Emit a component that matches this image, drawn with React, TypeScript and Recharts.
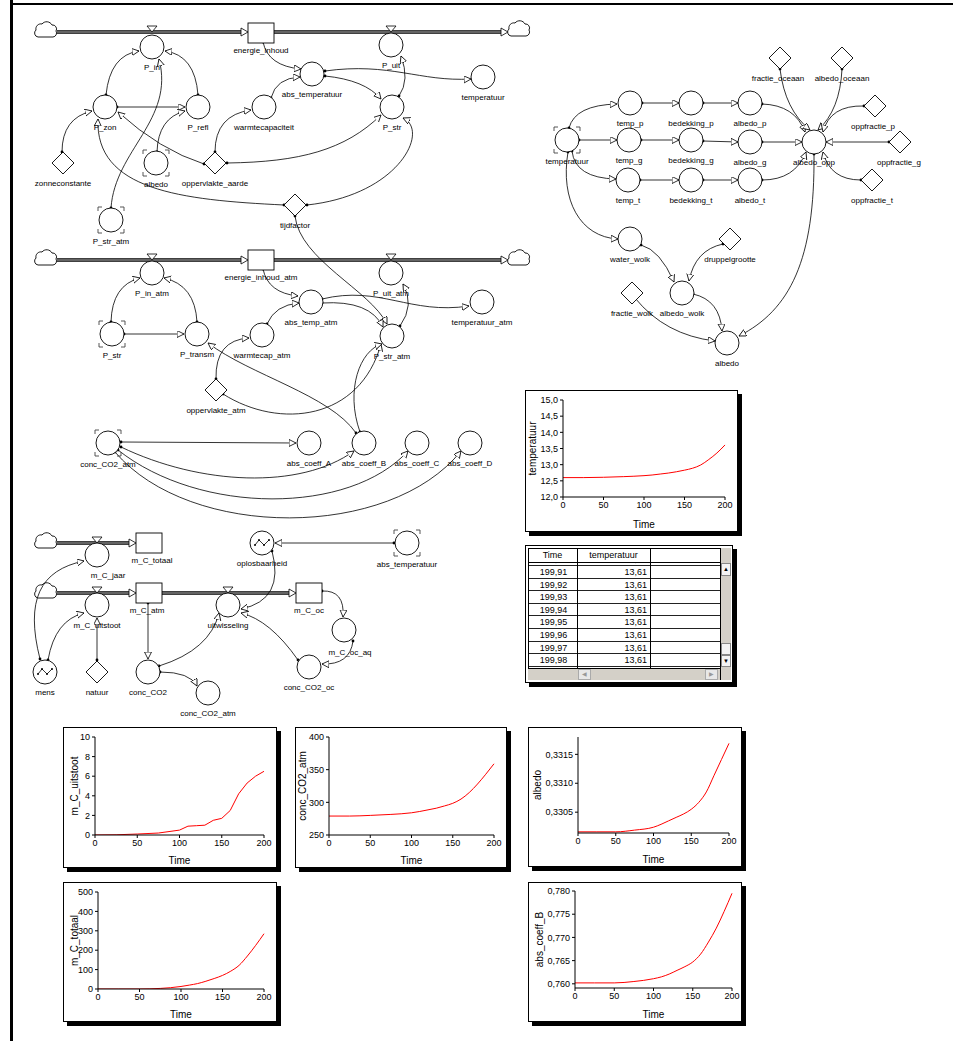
import React from 'react';
import { LineChart, Line, XAxis, YAxis } from 'recharts';

// simulation output (Time 0..200)
const TIME = [0, 25, 50, 75, 100, 110, 120, 130, 140, 150, 160, 170, 180, 190, 200];
const TEMPERATUUR = [12.6, 12.6, 12.61, 12.63, 12.66, 12.68, 12.71, 12.74, 12.78, 12.83, 12.89, 12.99, 13.16, 13.36, 13.61];
const M_C_UITSTOOT = [0, 0.02, 0.1, 0.2, 0.5, 0.9, 0.95, 1.0, 1.5, 1.7, 2.5, 4.2, 5.3, 6.0, 6.5];
const CONC_CO2_ATM = [279, 279, 280, 281.5, 284, 286, 288.5, 291, 294.5, 298.5, 305, 315, 328, 343, 359];
const ALBEDO = [0.33016, 0.33016, 0.33016, 0.33019, 0.33024, 0.33029, 0.33035, 0.33041, 0.33047, 0.33055, 0.33067, 0.33085, 0.33113, 0.33141, 0.33169];
const M_C_TOTAAL = [0, 0, 0, 3, 13, 20, 28, 40, 54, 70, 92, 122, 170, 225, 285];
const ABS_COEFF_B = [0.7602, 0.7602, 0.7602, 0.7605, 0.7611, 0.7615, 0.7621, 0.7629, 0.7637, 0.7647, 0.7664, 0.769, 0.772, 0.7756, 0.7795];
const TIME_TICKS = [0, 50, 100, 150, 200];

const TABLE_TIME = ['199,90', '199,91', '199,92', '199,93', '199,94', '199,95', '199,96', '199,97', '199,98'];
const TABLE_TEMP = ['13,61', '13,61', '13,61', '13,61', '13,61', '13,61', '13,61', '13,61', '13,61'];

const F = '"Liberation Sans", Arial, sans-serif';

// diagram nodes: [name, x, y, labelX?, labelY?]
type N = [string, number, number, number?, number?];
const CIRCLES: N[] = [
  ['P_in', 152, 47], ['P_uit', 391, 45], ['P_zon', 105, 107], ['P_refl', 198, 107],
  ['warmtecapaciteit', 264, 107], ['abs_temperatuur', 312, 74], ['temperatuur', 483, 77], ['P_str', 392, 107],
  ['P_in_atm', 152, 273], ['P_uit_atm', 391, 273], ['abs_temp_atm', 311, 302], ['temperatuur_atm', 482, 302],
  ['P_transm', 197, 334], ['warmtecap_atm', 262, 335], ['P_str_atm', 392, 336],
  ['abs_coeff_A', 309, 443], ['abs_coeff_B', 364, 443], ['abs_coeff_C', 417, 443], ['abs_coeff_D', 470, 443],
  ['m_C_jaar', 97, 555, 108, 578], ['m_C_uitstoot', 97, 605], ['uitwisseling', 228, 605],
  ['m_C_oc_aq', 344, 630, 350, 655], ['conc_CO2', 148, 672], ['conc_CO2_atm', 208, 693], ['conc_CO2_oc', 309, 667],
  ['temp_p', 630, 103], ['bedekking_p', 691, 103], ['albedo_p', 750, 103],
  ['temp_g', 629, 140], ['bedekking_g', 691, 140], ['albedo_g', 750, 142],
  ['temp_t', 628, 180], ['bedekking_t', 691, 180], ['albedo_t', 750, 180],
  ['albedo_opp', 814, 142], ['water_wolk', 630, 239], ['albedo_wolk', 682, 293], ['albedo', 727, 343],
];
const GHOSTS: N[] = [
  ['albedo', 156, 163], ['P_str_atm', 111, 220], ['P_str', 112, 334], ['conc_CO2_atm', 108, 443],
  ['abs_temperatuur', 407, 543], ['temperatuur', 567, 140],
];
const GRAPHS: N[] = [['oplosbaarheid', 262, 543], ['mens', 45, 672]];
const DIAMONDS: N[] = [
  ['zonneconstante', 63, 163], ['oppervlakte_aarde', 215, 163], ['tijdfactor', 295, 205],
  ['oppervlakte_atm', 216, 390], ['natuur', 97, 672],
  ['fractie_oceaan', 780, 58, 778, 81], ['albedo_oceaan', 842, 58, 842, 81], ['oppfractie_p', 875, 106, 873, 129],
  ['oppfractie_g', 900, 142, 899, 165], ['oppfractie_t', 872, 180, 872, 203], ['druppelgrootte', 730, 239],
  ['fractie_wolk', 632, 293],
];
const STOCKS: N[] = [
  ['energie_inhoud', 261, 33], ['energie_inhoud_atm', 261, 260], ['m_C_totaal', 149, 543, 152, 563],
  ['m_C_atm', 149, 593, 147, 613], ['m_C_oc', 309, 593, 309, 613],
];
const CLOUDS = [[46, 31], [519, 30], [46, 259], [519, 259], [46, 542], [46, 592]];
// pipes: x1, x2, y
const PIPES = [[57, 248, 32], [274, 508, 32], [57, 248, 260], [274, 508, 260], [57, 136, 543], [57, 136, 593], [162, 296, 593]];
const VALVES = [[152, 32], [391, 32], [152, 260], [391, 260], [97, 543], [97, 593], [228, 593]];

const LINKS: number[][] = [
  [106, 95, 110, 55, 139, 51], [198, 95, 195, 55, 165, 51], [117, 107, 185, 107],
  [62, 152, 62, 118, 92, 111], [157, 152, 158, 118, 185, 111], [204, 164, 160, 150, 118, 112],
  [215, 152, 215, 115, 251, 110], [227, 163, 300, 162, 345, 150, 381, 115],
  [271, 98, 276, 78, 300, 77], [263, 42, 268, 66, 301, 69],
  [325, 71, 390, 62, 420, 82, 471, 79], [325, 76, 365, 80, 381, 99], [399, 96, 410, 80, 401, 56],
  [307, 205, 400, 195, 430, 130, 403, 118], [284, 205, 180, 200, 95, 190, 98, 119],
  [111, 208, 115, 150, 175, 120, 159, 59], [295, 216, 300, 260, 370, 290, 387, 324],
  [111, 322, 112, 285, 140, 278], [197, 322, 195, 285, 164, 278], [124, 334, 184, 334],
  [263, 269, 268, 293, 298, 296], [267, 324, 275, 305, 299, 303], [216, 379, 215, 340, 249, 338],
  [223, 394, 280, 430, 360, 420, 381, 344], [322, 299, 380, 285, 410, 315, 469, 306],
  [322, 303, 370, 300, 383, 327], [400, 326, 415, 305, 403, 284],
  [356, 433, 330, 395, 250, 375, 208, 343], [360, 432, 345, 390, 360, 350, 382, 344],
  [121, 442, 296, 443], [121, 447, 200, 485, 300, 490, 354, 451],
  [118, 450, 200, 515, 350, 515, 408, 451], [115, 452, 190, 540, 390, 540, 461, 451],
  [40, 659, 25, 600, 40, 570, 84, 561], [48, 660, 55, 620, 84, 613], [97, 660, 97, 618],
  [148, 603, 148, 659], [159, 666, 210, 650, 219, 613], [160, 672, 190, 672, 197, 686],
  [272, 551, 285, 600, 241, 609], [394, 543, 275, 543], [322, 591, 345, 590, 343, 617],
  [353, 641, 350, 665, 322, 664], [298, 660, 270, 620, 241, 613],
  [569, 128, 575, 105, 617, 104], [579, 140, 617, 140], [572, 151, 575, 178, 616, 179],
  [642, 103, 679, 103], [703, 103, 738, 103], [641, 140, 679, 140], [703, 141, 738, 142],
  [640, 180, 679, 180], [703, 180, 738, 180],
  [762, 104, 795, 105, 805, 132], [762, 142, 802, 142], [762, 180, 795, 180, 806, 152],
  [780, 69, 785, 110, 810, 130], [842, 69, 840, 110, 818, 130], [864, 106, 830, 105, 823, 132],
  [889, 142, 826, 142], [861, 180, 830, 180, 823, 152],
  [814, 154, 815, 260, 790, 310, 739, 336], [568, 152, 560, 200, 580, 237, 618, 239],
  [641, 245, 660, 250, 674, 282], [723, 244, 695, 250, 689, 281],
  [635, 298, 665, 335, 715, 341], [693, 294, 720, 300, 722, 331],
];

function Lbl({ x, y, t }: { x: number; y: number; t: string }) {
  return <text x={x} y={y} fontSize={8} textAnchor="middle" fontFamily={F} fill="#000">{t}</text>;
}

function linkPath(a: number[]) {
  if (a.length === 4) return `M${a[0]},${a[1]} L${a[2]},${a[3]}`;
  if (a.length === 6) return `M${a[0]},${a[1]} Q${a[2]},${a[3]} ${a[4]},${a[5]}`;
  return `M${a[0]},${a[1]} C${a[2]},${a[3]} ${a[4]},${a[5]} ${a[6]},${a[7]}`;
}

function Cloud({ x, y }: { x: number; y: number }) {
  const d = `M${x - 8},${y + 6} a4,4 0 0 1 -2,-7 a5,5 0 0 1 6,-6 a6,6 0 0 1 10,1 a4,4 0 0 1 4,6 a4,4 0 0 1 -3,6 Z`;
  return <path d={d} fill="#fff" stroke="#000" strokeWidth={0.9} />;
}

function Diagram() {
  return (
    <svg width={953} height={1041} style={{ position: 'absolute', left: 0, top: 0 }}>
      <defs>
        <marker id="ah" markerWidth={8} markerHeight={8} refX={7} refY={3.5} orient="auto" markerUnits="userSpaceOnUse">
          <path d="M0,0 L7,3.5 L0,7 Z" fill="#fff" stroke="#000" strokeWidth={0.8} />
        </marker>
      </defs>
      <rect x={10} y={0} width={3} height={1041} fill="#000" />
      <rect x={10} y={3} width={943} height={2} fill="#000" />

      {PIPES.map(([x1, x2, y], i) => (
        <g key={'p' + i}>
          <line x1={x1} y1={y} x2={x2 - 6} y2={y} stroke="#000" strokeWidth={3.5} />
          <line x1={x1} y1={y} x2={x2 - 6} y2={y} stroke="#c8c8c8" strokeWidth={1.2} />
          <polygon points={`${x2 - 7},${y - 4} ${x2},${y} ${x2 - 7},${y + 4}`} fill="#fff" stroke="#000" strokeWidth={0.8} />
        </g>
      ))}
      {CLOUDS.map(([x, y], i) => <Cloud key={'c' + i} x={x} y={y} />)}
      {VALVES.map(([x, y], i) => (
        <polygon key={'v' + i} points={`${x - 5},${y - 6} ${x + 5},${y - 6} ${x},${y}`} fill="#fff" stroke="#000" strokeWidth={0.8} />
      ))}

      {LINKS.map((a, i) => (
        <g key={'l' + i}>
          <path d={linkPath(a)} fill="none" stroke="#000" strokeWidth={0.8} markerEnd="url(#ah)" />
          <circle cx={a[0]} cy={a[1]} r={1.4} fill="#000" />
        </g>
      ))}

      {CIRCLES.map(([t, x, y, lx, ly], i) => (
        <g key={'n' + i}>
          <circle cx={x} cy={y} r={12} fill="#fff" stroke="#000" strokeWidth={0.9} />
          <Lbl x={lx ?? x} y={ly ?? y + 23} t={t} />
        </g>
      ))}
      {GHOSTS.map(([t, x, y], i) => (
        <g key={'g' + i}>
          <path
            d={`M${x - 13},${y - 9} V${y - 13} H${x - 9} M${x + 9},${y - 13} H${x + 13} V${y - 9} M${x - 13},${y + 9} V${y + 13} H${x - 9} M${x + 9},${y + 13} H${x + 13} V${y + 9}`}
            fill="none" stroke="#444" strokeWidth={0.9}
          />
          <circle cx={x} cy={y} r={12} fill="#fff" stroke="#000" strokeWidth={0.9} />
          <Lbl x={x} y={y + 24} t={t} />
        </g>
      ))}
      {GRAPHS.map(([t, x, y], i) => (
        <g key={'f' + i}>
          <circle cx={x} cy={y} r={12} fill="#fff" stroke="#000" strokeWidth={0.9} />
          <polyline points={`${x - 7},${y + 2} ${x - 3},${y - 3} ${x + 2},${y + 2} ${x + 7},${y - 3}`} fill="none" stroke="#000" strokeWidth={0.8} />
          {[[-7, 2], [-3, -3], [2, 2], [7, -3]].map(([dx, dy], j) => (
            <circle key={j} cx={x + dx} cy={y + dy} r={1} fill="#000" />
          ))}
          <Lbl x={x} y={y + 23} t={t} />
        </g>
      ))}
      {DIAMONDS.map(([t, x, y, lx, ly], i) => (
        <g key={'d' + i}>
          <polygon points={`${x},${y - 11} ${x + 11},${y} ${x},${y + 11} ${x - 11},${y}`} fill="#fff" stroke="#000" strokeWidth={0.9} />
          <Lbl x={lx ?? x} y={ly ?? y + 23} t={t} />
        </g>
      ))}
      {STOCKS.map(([t, x, y, lx, ly], i) => (
        <g key={'s' + i}>
          <rect x={x - 13} y={y - 10} width={26} height={20} fill="#fff" stroke="#000" strokeWidth={0.9} />
          <Lbl x={lx ?? x} y={ly ?? y + 20} t={t} />
        </g>
      ))}
    </svg>
  );
}

type Box = { x: number; y: number; w: number; h: number };
type Plot = { l: number; t: number; r: number; b: number };

function MiniChart(props: {
  box: Box; plot: Plot; yLabel: string; values: number[]; labelOffset: number;
  domain: [number, number]; ticks: number[]; fmt: (v: number) => string; curve?: 'monotone' | 'linear';
}) {
  const { box, plot, yLabel, values, domain, ticks, fmt, labelOffset, curve = 'monotone' } = props;
  const data = TIME.map((t, i) => ({ t, v: values[i] }));
  const W = box.w - 2;
  const H = box.h - 2;
  const ox = box.x + 1;
  const oy = box.y + 1;
  return (
    <div
      style={{
        position: 'absolute', left: box.x, top: box.y, width: W, height: H,
        border: '1px solid #000', background: '#fff', boxShadow: '4px 4px 0 #000',
      }}
    >
      <LineChart width={W} height={H} data={data} margin={{ top: plot.t - oy, right: ox + W - plot.r, left: 0, bottom: 0 }}>
        <XAxis
          dataKey="t" type="number" domain={[0, 200]} ticks={TIME_TICKS} height={oy + H - plot.b}
          tickSize={3} stroke="#000" tick={{ fill: '#000', fontSize: 9, fontFamily: F }}
          label={{ value: 'Time', position: 'insideBottom', offset: 3, fill: '#000', fontSize: 10, fontFamily: F }}
        />
        <YAxis
          type="number" domain={domain} ticks={ticks} width={plot.l - ox} allowDataOverflow
          tickSize={3} stroke="#000" tick={{ fill: '#000', fontSize: 9, fontFamily: F }} tickFormatter={fmt}
          label={{ value: yLabel, angle: -90, position: 'insideLeft', offset: labelOffset, fill: '#000', fontSize: 10, fontFamily: F, style: { textAnchor: 'middle' } }}
        />
        <Line dataKey="v" type={curve} stroke="#ff0000" strokeWidth={1} dot={false} isAnimationActive={false} />
      </LineChart>
    </div>
  );
}

const comma = (d: number) => (v: number) => v.toFixed(d).replace('.', ',');

function DataTable() {
  const gray = '#d4d0c8';
  const cell: React.CSSProperties = { position: 'absolute', fontSize: 9, fontFamily: F, lineHeight: '12px', color: '#000' };
  return (
    <div
      style={{
        position: 'absolute', left: 525, top: 545, width: 206, height: 136,
        border: '1px solid #000', background: '#fff', boxShadow: '4px 4px 0 #000',
      }}
    >
      {/* header */}
      <div style={{ position: 'absolute', left: 2, top: 2, width: 192, height: 15, borderBottom: '1px solid #000', borderTop: '1px solid #000', borderLeft: '1px solid #000', boxSizing: 'border-box' }} />
      <div style={{ ...cell, left: 2, top: 3, width: 49, textAlign: 'center' }}>Time</div>
      <div style={{ ...cell, left: 51, top: 3, width: 73, textAlign: 'center' }}>temperatuur</div>
      {/* body */}
      <div style={{ position: 'absolute', left: 2, top: 17, width: 192, height: 105, overflow: 'hidden', borderLeft: '1px solid #000', boxSizing: 'border-box' }}>
        {TABLE_TIME.map((t, i) => (
          <div key={t} style={{ position: 'absolute', left: 0, top: -9.6 + i * 12.6, width: 192, height: 12.6, borderBottom: '1px solid #222', boxSizing: 'border-box', overflow: 'hidden' }}>
            <div style={{ ...cell, left: 0, top: 0, width: 49, textAlign: 'center' }}>{t}</div>
            <div style={{ ...cell, left: 49, top: 0, width: 69, textAlign: 'right' }}>{TABLE_TEMP[i]}</div>
          </div>
        ))}
      </div>
      {/* column lines */}
      <div style={{ position: 'absolute', left: 51, top: 2, width: 1, height: 120, background: '#000' }} />
      <div style={{ position: 'absolute', left: 124, top: 2, width: 1, height: 120, background: '#000' }} />
      {/* vertical scrollbar */}
      <div style={{ position: 'absolute', left: 194, top: 2, width: 11, height: 132, background: gray, borderLeft: '1px solid #000', boxSizing: 'border-box' }} />
      <div style={{ position: 'absolute', left: 195, top: 17, width: 10, height: 13, background: '#f4f4f4', border: '1px solid #888', boxSizing: 'border-box', fontSize: 6, textAlign: 'center', lineHeight: '11px' }}>▲</div>
      <div style={{ position: 'absolute', left: 195, top: 97, width: 10, height: 12, background: '#f4f4f4', border: '1px solid #888', boxSizing: 'border-box' }} />
      <div style={{ position: 'absolute', left: 195, top: 109, width: 10, height: 12, background: '#f4f4f4', border: '1px solid #888', boxSizing: 'border-box', fontSize: 6, textAlign: 'center', lineHeight: '10px' }}>▼</div>
      {/* horizontal scrollbar */}
      <div style={{ position: 'absolute', left: 2, top: 122, width: 192, height: 12, background: gray, borderTop: '1px solid #000', boxSizing: 'border-box' }} />
      <div style={{ position: 'absolute', left: 52, top: 123, width: 13, height: 11, background: '#e8e8e8', border: '1px solid #aaa', boxSizing: 'border-box', fontSize: 6, color: '#999', textAlign: 'center', lineHeight: '9px' }}>◀</div>
      <div style={{ position: 'absolute', left: 179, top: 123, width: 13, height: 11, background: '#e8e8e8', border: '1px solid #aaa', boxSizing: 'border-box', fontSize: 6, color: '#999', textAlign: 'center', lineHeight: '9px' }}>▶</div>
    </div>
  );
}

export default function App() {
  return (
    <div style={{ position: 'absolute', left: 0, top: 0, width: 953, height: 1041, background: '#fff', overflow: 'hidden' }}>
      <Diagram />
      <MiniChart box={{ x: 525, y: 390, w: 213, h: 142 }} plot={{ l: 563, t: 400, r: 725, b: 497 }} labelOffset={6}
        yLabel="temperatuur" values={TEMPERATUUR} domain={[12, 15]} ticks={[12, 12.5, 13, 13.5, 14, 14.5, 15]} fmt={comma(1)} />
      <DataTable />
      <MiniChart box={{ x: 63, y: 727, w: 214, h: 141 }} plot={{ l: 95, t: 737, r: 264, b: 835 }} curve="linear" labelOffset={10}
        yLabel="m_C_uitstoot" values={M_C_UITSTOOT} domain={[0, 10]} ticks={[0, 2, 4, 6, 8, 10]} fmt={comma(0)} />
      <MiniChart box={{ x: 295, y: 727, w: 212, h: 141 }} plot={{ l: 329, t: 737, r: 494, b: 835 }} labelOffset={6}
        yLabel="conc_CO2_atm" values={CONC_CO2_ATM} domain={[250, 400]} ticks={[250, 300, 350, 400]} fmt={comma(0)} />
      <MiniChart box={{ x: 528, y: 727, w: 214, h: 140 }} plot={{ l: 578, t: 737, r: 729, b: 833 }} labelOffset={8}
        yLabel="albedo" values={ALBEDO} domain={[0.33014, 0.3318]} ticks={[0.3305, 0.331, 0.3315]} fmt={comma(4)} />
      <MiniChart box={{ x: 63, y: 882, w: 214, h: 140 }} plot={{ l: 98, t: 892, r: 264, b: 989 }} labelOffset={10}
        yLabel="m_C_totaal" values={M_C_TOTAAL} domain={[0, 500]} ticks={[0, 100, 200, 300, 400, 500]} fmt={comma(0)} />
      <MiniChart box={{ x: 528, y: 882, w: 214, h: 140 }} plot={{ l: 575, t: 891, r: 732, b: 988 }} labelOffset={10}
        yLabel="abs_coeff_B" values={ABS_COEFF_B} domain={[0.7591, 0.78]} ticks={[0.76, 0.765, 0.77, 0.775, 0.78]} fmt={comma(3)} />
    </div>
  );
}
